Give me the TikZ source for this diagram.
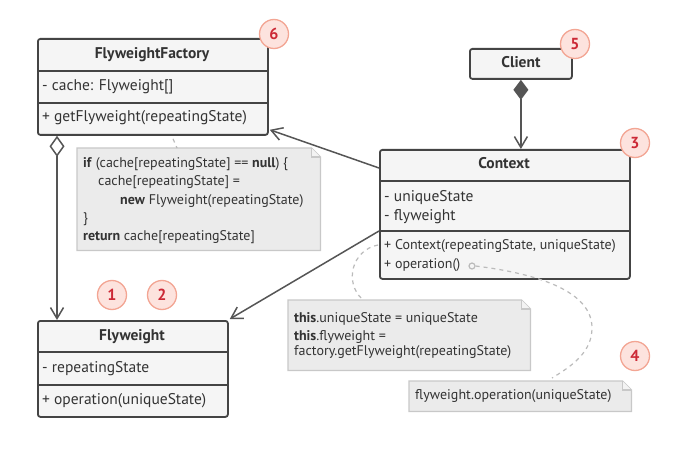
\documentclass[tikz,border=0pt]{standalone}
\usepackage{fontspec}
\setmainfont{PT Sans}
\usetikzlibrary{arrows.meta,calc}
\definecolor{boxc}{HTML}{444444}
\definecolor{boxf}{HTML}{F5F5F5}
\definecolor{txt}{HTML}{333333}
\definecolor{notef}{HTML}{EBEBEB}
\definecolor{notec}{HTML}{C8C8C8}
\definecolor{badgef}{HTML}{FDE3DE}
\definecolor{badgec}{HTML}{F3A593}
\definecolor{badget}{HTML}{CC2936}
\definecolor{linec}{HTML}{555555}
\definecolor{dashc}{HTML}{BBBBBB}
\begin{document}
\begin{tikzpicture}[x=1pt,y=-1pt,
  classbox/.style={draw=boxc,fill=boxf,line width=1.8pt,rounded corners=2.5pt,inner sep=0pt,anchor=north west},
  divider/.style={draw=boxc,line width=1.6pt},
  ctitle/.style={font=\fontsize{15.5}{17}\selectfont\bfseries,text=txt,inner sep=0pt,text height=11pt,text depth=3pt},
  member/.style={font=\fontsize{15.5}{17}\selectfont,text=txt,anchor=west,inner sep=0pt,text height=11pt,text depth=3pt},
  smember/.style={font=\fontsize{14}{16}\selectfont,text=txt,anchor=west,inner sep=0pt,text height=10pt,text depth=3pt},
  notearea/.style={inner sep=0pt,anchor=north west},
  noteshape/.style={draw=notec,fill=notef,line width=1.2pt},
  notetext/.style={font=\fontsize{14}{16}\selectfont,text=txt,anchor=west,inner sep=0pt,text height=10pt,text depth=3pt},
  badge/.style={circle,draw=badgec,fill=badgef,line width=1.3pt,minimum size=29pt,inner sep=0pt,text=badget,font=\fontsize{16}{16}\selectfont\bfseries},
  link/.style={draw=linec,line width=1.5pt},
  dashlink/.style={draw=dashc,line width=1.2pt,dash pattern=on 4pt off 4pt},
  openhead/.style={-{Straight Barb[length=11pt,width=13pt,line width=1.5pt]}},
]
\useasboundingbox[fill=white] (0,0) rectangle (685,457);

% ---------- FlyweightFactory ----------
\node[classbox,minimum width=230pt,minimum height=96pt] (ff) at (37,38) {};
\draw[divider] (ff.west |- 0,71) -- (ff.east |- 0,71);
\draw[divider] (ff.west |- 0,103) -- (ff.east |- 0,103);
\node[ctitle] (fft) at (152,55) {FlyweightFactory};
\node[member] (ffa) at (42,87) {- cache: Flyweight[]};
\node[member] (ffm) at (42,118) {+ getFlyweight(repeatingState)};

% ---------- Client ----------
\node[classbox,minimum width=102pt,minimum height=30pt] (cl) at (469,48) {};
\node[ctitle] (clt) at (cl.center) {Client};

% ---------- Context ----------
\node[classbox,minimum width=250pt,minimum height=129pt] (ctx) at (379,149) {};
\draw[divider] (ctx.west |- 0,181) -- (ctx.east |- 0,181);
\draw[divider] (ctx.west |- 0,231) -- (ctx.east |- 0,231);
\node[ctitle] (ctxt) at (504,165) {Context};
\node[member] (ctxa1) at (384,197) {- uniqueState};
\node[member] (ctxa2) at (384,217) {- flyweight};
\node[smember] (ctxm1) at (384,246) {+ Context(repeatingState, uniqueState)};
\node[smember] (ctxm2) at (384,265) {+ operation()};

% ---------- Flyweight ----------
\node[classbox,minimum width=190pt,minimum height=96pt] (fw) at (37,320) {};
\draw[divider] (fw.west |- 0,352) -- (fw.east |- 0,352);
\draw[divider] (fw.west |- 0,385) -- (fw.east |- 0,385);
\node[ctitle] (fwt) at (132,336) {Flyweight};
\node[member] (fwa) at (42,368) {- repeatingState};
\node[member] (fwm) at (42,400) {+ operation(uniqueState)};

% ---------- Notes ----------
\node[notearea,minimum width=243pt,minimum height=102pt] (n1) at (77,148) {};
\draw[noteshape] (n1.north west) -- ([xshift=-9pt]n1.north east) -- ([yshift=-9pt]n1.north east) -- (n1.south east) -- (n1.south west) -- cycle;
\draw[noteshape,fill=notef!60!white] ([xshift=-9pt]n1.north east) -- ([xshift=-9pt,yshift=-9pt]n1.north east) -- ([yshift=-9pt]n1.north east);
\node[notetext] (n1l1) at (83,164) {\textbf{if} (cache[repeatingState] == \textbf{null}) \{};
\node[notetext] (n1l2) at (98,182) {cache[repeatingState] =};
\node[notetext] (n1l3) at (120,201) {\textbf{new} Flyweight(repeatingState)};
\node[notetext] (n1l4) at (83,219) {\}};
\node[notetext] (n1l5) at (83,237) {\textbf{return} cache[repeatingState]};

\node[notearea,minimum width=242pt,minimum height=70pt] (n2) at (288,300) {};
\draw[noteshape] (n2.north west) -- ([xshift=-9pt]n2.north east) -- ([yshift=-9pt]n2.north east) -- (n2.south east) -- (n2.south west) -- cycle;
\draw[noteshape,fill=notef!60!white] ([xshift=-9pt]n2.north east) -- ([xshift=-9pt,yshift=-9pt]n2.north east) -- ([yshift=-9pt]n2.north east);
\node[notetext] (n2l1) at (294,319) {\textbf{this}.uniqueState = uniqueState};
\node[notetext] (n2l2) at (294,337) {\textbf{this}.flyweight =};
\node[notetext] (n2l3) at (294,352) {factory.getFlyweight(repeatingState)};

\node[notearea,minimum width=222pt,minimum height=30pt] (n3) at (409,381) {};
\draw[noteshape] (n3.north west) -- ([xshift=-9pt]n3.north east) -- ([yshift=-9pt]n3.north east) -- (n3.south east) -- (n3.south west) -- cycle;
\draw[noteshape,fill=notef!60!white] ([xshift=-9pt]n3.north east) -- ([xshift=-9pt,yshift=-9pt]n3.north east) -- ([yshift=-9pt]n3.north east);
\node[notetext] (n3l1) at (415,396) {flyweight.operation(uniqueState)};

% ---------- dashed note links ----------
\coordinate (d1a) at ($(ff.south west)+(136,3)$);
\coordinate (d1b) at ($(n1.north west)+(100,0)$);
\draw[dashlink] (d1a) -- (d1b);

\coordinate (d2a) at ($(ctx.west |- 0,245)+(-1,0)$);
\coordinate (d2b) at ($(n2.north west)+(74,-1)$);
\draw[dashlink] (d2a) .. controls (352,250) and (344,282) .. (d2b);

\node[circle,draw=dashc,line width=1.2pt,minimum size=6pt,inner sep=0pt] (opc) at (472,266) {};
\coordinate (d3m) at (592,328);
\coordinate (d3b) at ($(n3.north west)+(143,-3)$);
\draw[dashlink] (opc.east) .. controls (540,274) and (592,292) .. (d3m) .. controls (592,352) and (572,366) .. (d3b);

% ---------- connectors ----------
\draw[link,{Diamond[open,length=21pt,width=15pt,line width=1.5pt]}-{Straight Barb[length=11pt,width=13pt,line width=1.5pt]}]
  ([xshift=20pt]ff.south west) -- ([xshift=20pt]fw.north west);
\draw[link,{Diamond[length=20pt,width=15pt,fill=linec]}-{Straight Barb[length=11pt,width=13pt,line width=1.5pt]}]
  (cl.south) -- (cl.south |- ctx.north);
\draw[link,openhead] ($(ctx.north west)+(0,19)$) -- ($(ff.south east)+(1,-6)$);
\draw[link,openhead] (ctx.west |- 0,231) -- ($(fw.north east)+(1,-1)$);

% ---------- badges ----------
\node[badge] (b6) at (274,34) {6};
\node[badge] (b5) at (575,44) {5};
\node[badge] (b3) at (635,143) {3};
\node[badge] (b4) at (635,356) {4};
\node[badge] (b1) at (112,295) {1};
\node[badge] (b2) at (162,295) {2};
\end{tikzpicture}
\end{document}
